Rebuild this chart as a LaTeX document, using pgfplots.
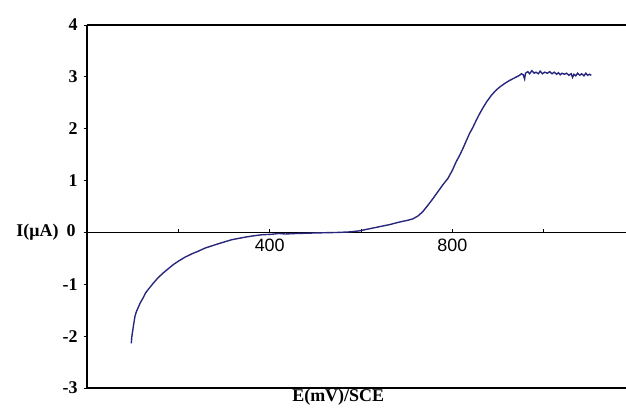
\documentclass[border=0pt]{standalone}
\usepackage{pgfplots}
\pgfplotsset{compat=1.18}
\usepackage{fontspec}
\setmainfont{Liberation Serif}
\newfontfamily\arialish{Liberation Sans}
\definecolor{curve}{RGB}{40,38,125}

\begin{document}
\begin{tikzpicture}
\useasboundingbox (-87bp,-25bp) rectangle (539bp,388bp);
\begin{axis}[
  at={(0,0)}, anchor=south west,
  scale only axis, width=539bp, height=363bp,
  xmin=0, xmax=1180, ymin=-3, ymax=4,
  axis x line*=middle, axis y line*=left,
  axis line style={black, line width=1.3pt},
  xtick={200,400,600,800,1000},
  xticklabels={,400,,800,},
  ytick={-3,-2,...,4},
  yticklabels={-3,-2,-1,,1,2,3,4},
  tick style={black, line width=1pt},
  major tick length=3bp,
  xtick align=inside, ytick align=outside,
  xticklabel style={font=\arialish\fontsize{18}{20}\selectfont, yshift=-3bp},
  yticklabel style={font=\bfseries\fontsize{18}{20}\selectfont, xshift=-3bp},
  /pgf/number format/assume math mode=true,
  xlabel={E(mV)/SCE},
  xlabel style={font=\bfseries\fontsize{18}{20}\selectfont, at={(rel axis cs:0.466,0)}, anchor=north, yshift=2bp},
  ylabel={I(μA)\hspace{8bp}0},
  ylabel style={font=\bfseries\fontsize{18}{20}\selectfont, rotate=-90, at={(rel axis cs:0,3/7)}, anchor=east, xshift=-8bp},
  clip=false,
]
\draw[black, line width=1.3pt] (rel axis cs:0,1) -- (rel axis cs:1,1);
\draw[black, line width=1.3pt] (rel axis cs:0,0) -- (rel axis cs:1,0);
\addplot[curve, line width=1.4pt, mark=none] coordinates {
(97,-2.14) (98,-2.02) (100,-1.90) (102,-1.78) (105,-1.62) (108,-1.53) (112,-1.45) (117,-1.35)
(123,-1.26) (128,-1.17) (134,-1.10) (145,-0.98) (156,-0.87) (167,-0.78) (178,-0.70)
(189,-0.62) (200,-0.555) (214,-0.48) (229,-0.415) (244,-0.36) (259,-0.30) (273,-0.26)
(288,-0.217) (302,-0.18) (317,-0.14) (332,-0.115) (347,-0.09) (365,-0.065) (383,-0.045)
(405,-0.035) (420,-0.02) (434,-0.03) (460,-0.02) (500,-0.01) (550,0.0) (575,0.01)
(596,0.03) (618,0.07) (640,0.11) (662,0.15) (684,0.2) (700,0.23) (713,0.26) (725,0.32)
(735,0.40) (746,0.52) (758,0.66) (771,0.82) (780,0.93) (790,1.04) (800,1.20) (808,1.36)
(816,1.49) (823,1.62) (830,1.76) (837,1.90) (845,2.03) (852,2.16) (859,2.28) (866,2.39)
(875,2.52) (885,2.64) (894,2.73) (903,2.80) (914,2.87) (925,2.93) (936,2.98) (947,3.03)
(951,3.06) (955,3.04) (958,2.96) (960,3.07) (965,3.10) (969,3.06) (974,3.12) (979,3.07)
(983,3.09) (988,3.06) (992,3.11) (997,3.06) (1002,3.09) (1008,3.07) (1013,3.10) (1018,3.06)
(1023,3.09) (1028,3.05) (1032,3.08) (1036,3.04) (1040,3.07) (1045,3.05) (1050,3.07)
(1055,3.03) (1060,3.06) (1063,2.99) (1066,3.05) (1070,3.02) (1074,3.07) (1079,3.03)
(1083,3.06) (1088,3.02) (1092,3.07) (1096,3.03) (1100,3.05) (1104,3.03)
};
\end{axis}
\end{tikzpicture}
\end{document}
